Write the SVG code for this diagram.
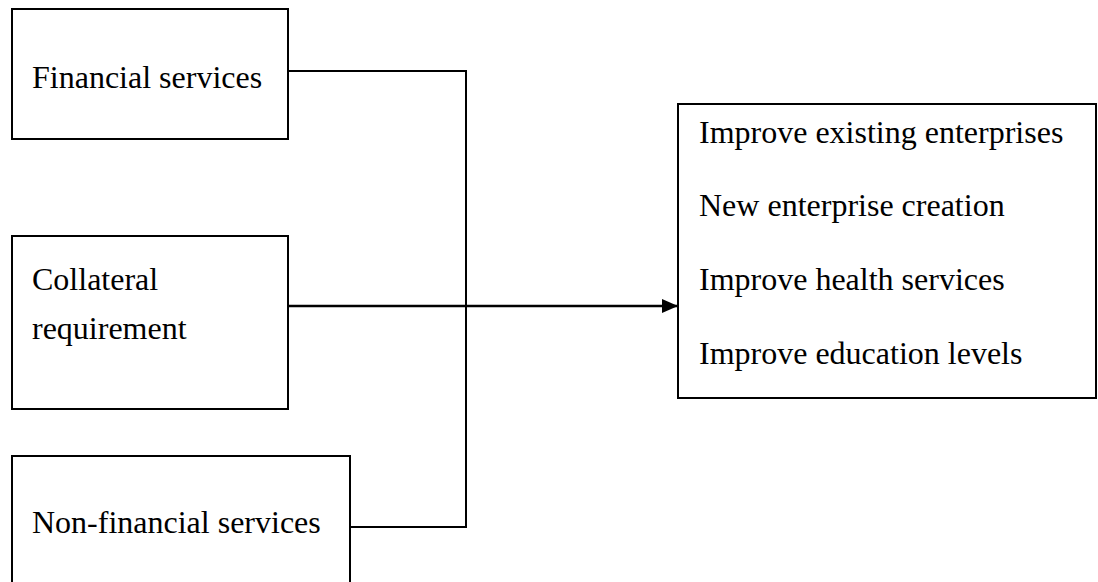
<svg xmlns="http://www.w3.org/2000/svg" width="1098" height="582" viewBox="0 0 1098 582">
<style>
.box{fill:#fff;stroke:#000;stroke-width:2}
.t{font-family:"Liberation Serif","Times New Roman",serif;font-size:32px;fill:#000}
.c{fill:none;stroke:#000;stroke-width:2}
.a{fill:none;stroke:#000;stroke-width:2.6}
</style>
<defs>
<marker id="arr" markerWidth="16" markerHeight="14" refX="16" refY="7" orient="auto" markerUnits="userSpaceOnUse">
<path d="M0,0 L16,7 L0,14 Z" fill="#000"/>
</marker>
</defs>
<rect width="1098" height="582" fill="#fff"/>
<g id="connectors">
<polyline class="c" points="288,71 466,71 466,527 350,527"/>
<line class="a" x1="288" y1="306" x2="678" y2="306" marker-end="url(#arr)"/>
</g>
<g id="financial">
<rect class="box" x="12" y="9" width="276" height="130"/>
<text class="t" x="32" y="88">Financial services</text>
</g>
<g id="collateral">
<rect class="box" x="12" y="236" width="276" height="173"/>
<text class="t" x="32" y="290">Collateral</text>
<text class="t" x="32" y="339">requirement</text>
</g>
<g id="nonfinancial">
<rect class="box" x="12" y="456" width="338" height="140"/>
<text class="t" x="32" y="533">Non-financial services</text>
</g>
<g id="outcomes">
<rect class="box" x="678" y="104" width="418" height="294"/>
<text class="t" x="699" y="143">Improve existing enterprises</text>
<text class="t" x="699" y="216">New enterprise creation</text>
<text class="t" x="699" y="290">Improve health services</text>
<text class="t" x="699" y="364">Improve education levels</text>
</g>
</svg>
